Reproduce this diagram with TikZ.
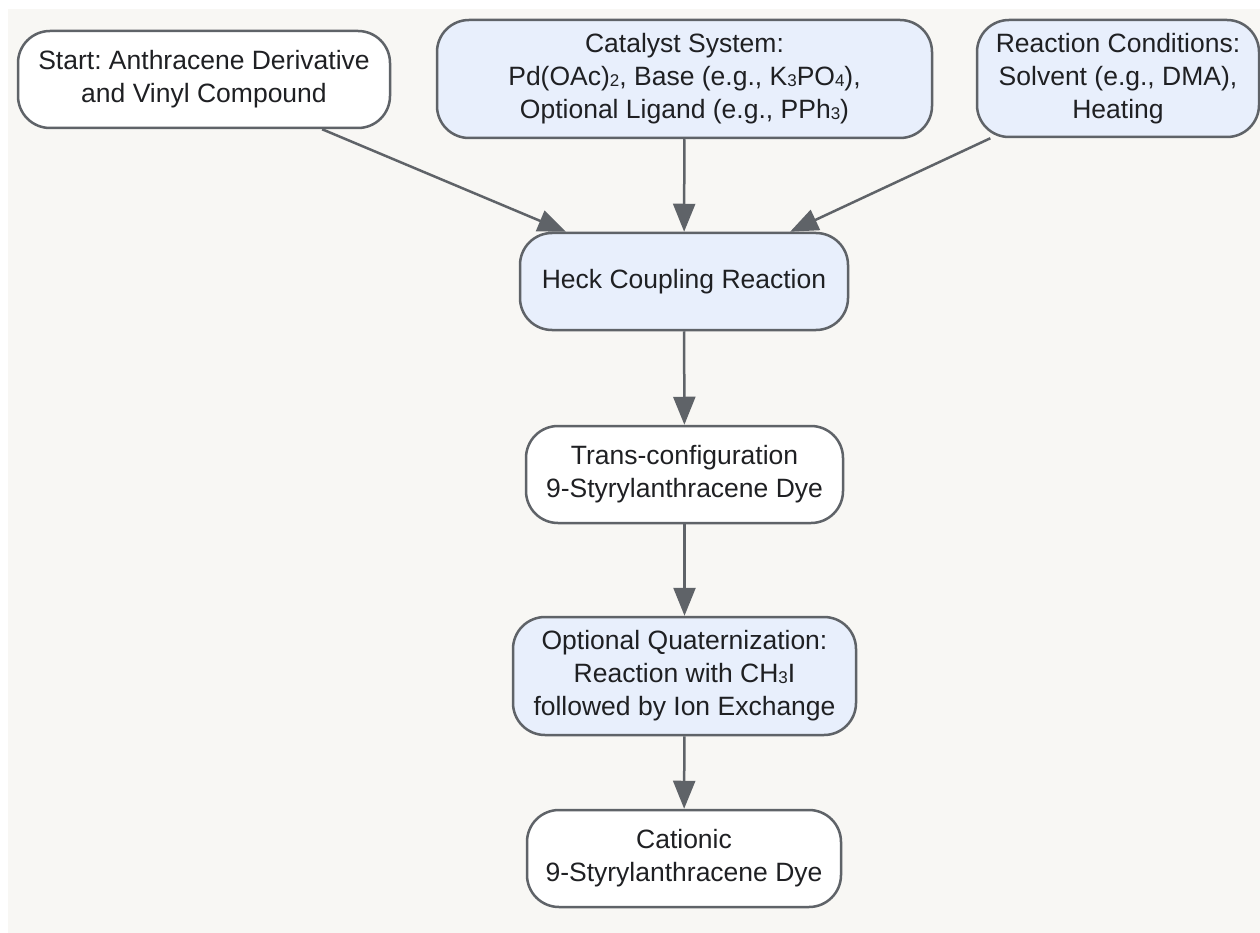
\documentclass[tikz,border=0pt]{standalone}
\usepackage{fontspec}
\setmainfont{Liberation Sans}
\usetikzlibrary{arrows.meta}
\frenchspacing
\definecolor{bg}{HTML}{F8F7F4}
\definecolor{bluefill}{HTML}{E8EFFC}
\definecolor{edge}{HTML}{5F6368}
\definecolor{txt}{HTML}{1F2023}
\newcommand{\sbs}[1]{\raisebox{-0.5pt}{\fontsize{17}{17}\selectfont #1}}
\begin{document}
\begin{tikzpicture}[x=1pt,y=-1pt,
  box/.style={draw=edge, line width=2.5pt, rounded corners=32pt, fill=white,
    align=center, inner sep=0pt, text=txt,
    font=\fontsize{26.5}{33}\selectfont},
  bluebox/.style={box, fill=bluefill},
  arr/.style={draw=edge, line width=2.5pt, -{Triangle[length=28pt,width=22pt]}}]
\useasboundingbox (0,0) rectangle (1260,933);
\fill[bg] (8,9) rectangle (1260,933);
\node[box, minimum width=372pt, minimum height=97pt] (start) at (204,79.5)
  {Start: Anthracene Derivative\\and Vinyl Compound};
\node[bluebox, minimum width=495pt, minimum height=118pt] (cat) at (684.5,79)
  {Catalyst System:\\Pd(OAc)\sbs{2}, Base (e.g., K\sbs{3}PO\sbs{4}),\\Optional Ligand (e.g., PPh\sbs{3})};
\node[bluebox, minimum width=282pt, minimum height=117pt] (cond) at (1118,78.5)
  {Reaction Conditions:\\Solvent (e.g., DMA),\\Heating};
\node[bluebox, minimum width=328pt, minimum height=97pt] (heck) at (684,281.5)
  {Heck Coupling Reaction};
\node[box, minimum width=317pt, minimum height=97pt] (trans) at (684.5,474.5)
  {Trans-configuration\\9-Styrylanthracene Dye};
\node[bluebox, minimum width=343pt, minimum height=118pt] (quat) at (684.5,676)
  {Optional Quaternization:\\Reaction with CH\sbs{3}I\\followed by Ion Exchange};
\node[box, minimum width=314pt, minimum height=97pt] (cation) at (684,858.5)
  {Cationic\\9-Styrylanthracene Dye};
\draw[arr] (start) -- (heck);
\draw[arr] (cat) -- (heck);
\draw[arr] (cond) -- (heck);
\draw[arr] (heck) -- (trans);
\draw[arr] (trans) -- (quat);
\draw[arr] (quat) -- (cation);
\end{tikzpicture}
\end{document}
